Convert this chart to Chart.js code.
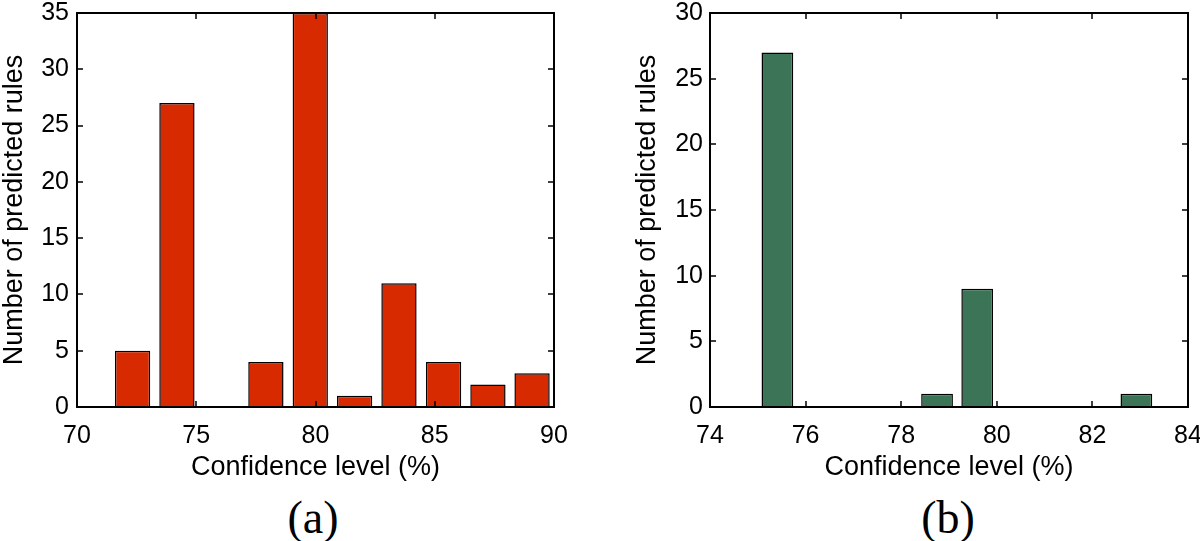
<!DOCTYPE html>
<html>
<head>
<meta charset="utf-8">
<script src="https://cdn.jsdelivr.net/npm/chart.js@4/dist/chart.umd.min.js"></script>
<style>
  html, body { margin: 0; padding: 0; background: #fff; }
  #wrap { position: relative; width: 1200px; height: 541px; background: #fff; overflow: hidden; }
  canvas { position: absolute; top: 0; }
  .cap { position: absolute; width: 120px; height: 52px; line-height: 52px; text-align: center;
         font-family: "Liberation Serif", "DejaVu Serif", serif; font-size: 46px; color: #000; }
</style>
</head>
<body>
<div id="wrap">
  <canvas id="c1" width="600" height="490" style="left:0px"></canvas>
  <canvas id="c2" width="600" height="490" style="left:600px"></canvas>
  <div class="cap" style="left:253px; top:492px;">(a)</div>
  <div class="cap" style="left:888px; top:492px;">(b)</div>
</div>
<script>
// ---- Data ----
const binCentersA = [72.33, 74.19, 76.05, 77.92, 79.78, 81.64, 83.5, 85.37, 87.23, 89.08];
const countsA     = [5, 27, 0, 4, 35, 1, 11, 4, 2, 3];
const binCentersB = [75.41, 76.25, 77.08, 77.92, 78.75, 79.59, 80.42, 81.26, 82.09, 82.92];
const countsB     = [27, 0, 0, 0, 1, 9, 0, 0, 0, 1];

const xTicksA = [70, 75, 80, 85, 90];
const yTicksA = [0, 5, 10, 15, 20, 25, 30, 35];
const xTicksB = [74, 76, 78, 80, 82, 84];
const yTicksB = [0, 5, 10, 15, 20, 25, 30];

const xTitle = 'Confidence level (%)';
const yTitle = 'Number of predicted rules';

const TICK_FONT  = { family: '"Liberation Sans", Arial, Helvetica, sans-serif', size: 25 };
const TITLE_FONT = { family: '"Liberation Sans", Arial, Helvetica, sans-serif', size: 27 };

// Inward tick marks on all four sides + full box, MATLAB style
const boxTicks = {
  id: 'boxTicks',
  afterDraw(chart) {
    const { ctx, chartArea: a, scales } = chart;
    const len = 6;
    ctx.save();
    ctx.strokeStyle = '#000';
    ctx.lineWidth = 1.5;
    ctx.beginPath();
    scales.x.ticks.forEach(t => {
      const px = Math.round(scales.x.getPixelForValue(t.value));
      ctx.moveTo(px, a.bottom); ctx.lineTo(px, a.bottom - len);
      ctx.moveTo(px, a.top); ctx.lineTo(px, a.top + len);
    });
    scales.y.ticks.forEach(t => {
      const py = Math.round(scales.y.getPixelForValue(t.value));
      ctx.moveTo(a.left, py); ctx.lineTo(a.left + len, py);
      ctx.moveTo(a.right, py); ctx.lineTo(a.right - len, py);
    });
    ctx.stroke();
    ctx.lineWidth = 2;
    ctx.strokeRect(Math.round(a.left), Math.round(a.top),
                   Math.round(a.right - a.left), Math.round(a.bottom - a.top));
    ctx.restore();
  }
};

function makeChart(id, centers, counts, color, xTicks, yTicks, cfg) {
  const data = centers.map((c, i) => ({ x: c, y: counts[i] }));
  return new Chart(document.getElementById(id), {
    type: 'bar',
    data: {
      datasets: [{
        data: data,
        backgroundColor: color,
        borderColor: '#000',
        borderWidth: 1.5,
        borderSkipped: 'start',
        categoryPercentage: 0.8,
        barPercentage: 1.0
      }]
    },
    options: {
      responsive: false,
      animation: false,
      devicePixelRatio: 1,
      layout: { padding: { left: 0, top: cfg.top, right: cfg.right, bottom: 0 } },
      plugins: { legend: { display: false }, tooltip: { enabled: false } },
      scales: {
        x: {
          type: 'linear',
          offset: false,
          min: xTicks[0],
          max: xTicks[xTicks.length - 1],
          afterBuildTicks: s => { s.ticks = xTicks.map(v => ({ value: v })); },
          afterFit: s => { s.height = cfg.xHeight; s.paddingLeft = 0; s.paddingRight = 0; },
          grid: { display: false, drawTicks: false },
          border: { display: false },
          ticks: { color: '#000', font: TICK_FONT, padding: 14, maxRotation: 0, autoSkip: false },
          title: { display: true, text: xTitle, color: '#000', font: TITLE_FONT, padding: { top: 0, bottom: 6 } }
        },
        y: {
          min: yTicks[0],
          max: yTicks[yTicks.length - 1],
          afterBuildTicks: s => { s.ticks = yTicks.map(v => ({ value: v })); },
          afterFit: s => { s.width = cfg.yWidth; s.paddingTop = 0; s.paddingBottom = 0; },
          grid: { display: false, drawTicks: false },
          border: { display: false },
          ticks: { color: '#000', font: TICK_FONT, padding: cfg.yTickPad, autoSkip: false },
          title: { display: true, text: yTitle, color: '#000', font: TITLE_FONT, padding: { top: cfg.yTitlePad, bottom: 0 } }
        }
      }
    },
    plugins: [boxTicks]
  });
}

makeChart('c1', binCentersA, countsA, '#d82a00', xTicksA, yTicksA,
  { top: 13, right: 46, xHeight: 83, yWidth: 77, yTitlePad: -2, yTickPad: 8 });
makeChart('c2', binCentersB, countsB, '#3b7457', xTicksB, yTicksB,
  { top: 13, right: 12, xHeight: 83, yWidth: 110, yTitlePad: 31, yTickPad: 7 });
</script>
</body>
</html>
